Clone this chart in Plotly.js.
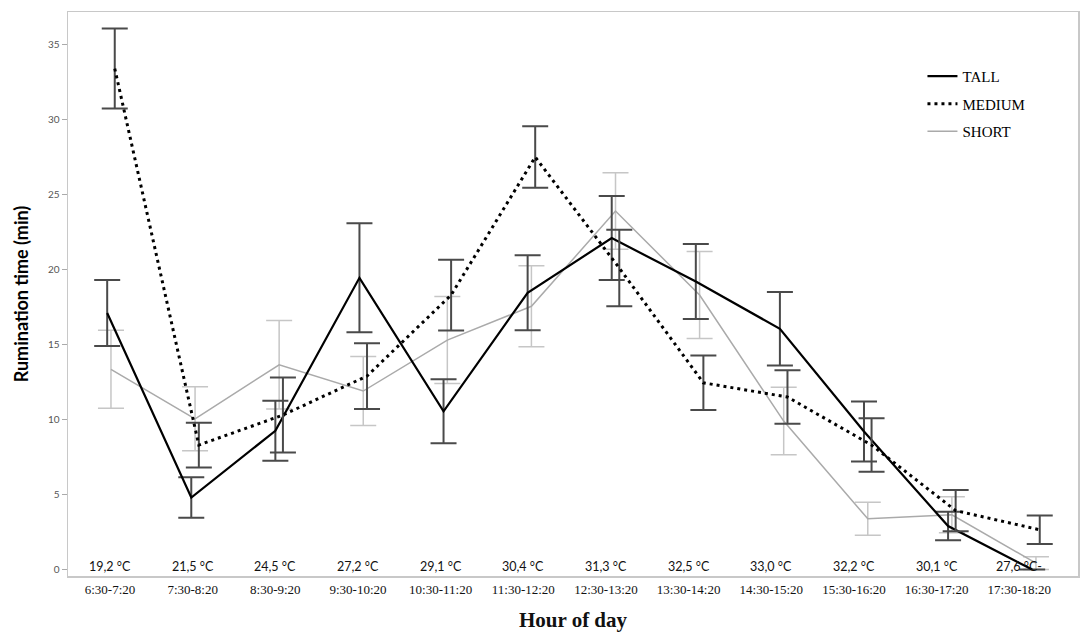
<!DOCTYPE html>
<html>
<head>
<meta charset="utf-8">
<script src="https://cdn.plot.ly/plotly-3.0.1.min.js"></script>
<style>
  body { margin: 0; background: #fff; }
  #chart { width: 1084px; height: 634px; }
</style>
</head>
<body>
<div id="chart"></div>
<script>
// time slots and mean air temperature per slot
const hours = ["6:30-7:20", "7:30-8:20", "8:30-9:20", "9:30-10:20", "10:30-11:20", "11:30-12:20",
               "12:30-13:20", "13:30-14:20", "14:30-15:20", "15:30-16:20", "16:30-17:20", "17:30-18:20"];
const temps = ["19,2 °C", "21,5 °C", "24,5 °C", "27,2 °C", "29,1 °C", "30,4 °C",
               "31,3 °C", "32,5 °C", "33,0 °C", "32,2 °C", "30,1 °C", "27,6 °C-"];

// rumination time (min), mean and error
const tall      = [17.1, 4.8, 9.25, 19.45, 10.55, 18.45, 22.1, 19.2, 16.05, 9.2, 2.9, 0.0];
const tallErr   = [2.2, 1.35, 2.0, 3.63, 2.13, 2.5, 2.8, 2.5, 2.45, 2.0, 0.95, 0];
const medium    = [33.4, 8.3, 10.3, 12.9, 18.3, 27.5, 20.1, 12.45, 11.5, 8.3, 3.93, 2.65];
const mediumErr = [2.67, 1.49, 2.5, 2.19, 2.36, 2.05, 2.55, 1.82, 1.78, 1.78, 1.37, 0.95];
const short     = [13.35, 10.05, 13.65, 11.9, 15.3, 17.55, 23.9, 18.3, 9.9, 3.38, 3.65, 0.43];
const shortErr  = [2.6, 2.13, 2.95, 2.3, 2.9, 2.7, 2.55, 2.9, 2.25, 1.1, 1.2, 0.43];

// small horizontal dodge so the error bars do not sit on top of each other
const dodge = 0.045;
const xs = off => hours.map((h, i) => i + off);

function series(name, y, err, off, line, errColor, errThick, rank) {
    return {
        type: "scatter", mode: "lines", name: name,
        x: xs(off), y: y,
        line: line,
        error_y: {type: "data", array: err, visible: true, color: errColor, thickness: errThick, width: 13},
        legendrank: rank, legendgroup: name,
        hoverinfo: "skip"
    };
}

const traces = [
    series("SHORT", short, shortErr, 0, {color: "#aaaaaa", width: 1.5}, "#c6c6c6", 1.5, 3),
    series("TALL", tall, tallErr, -dodge, {color: "#000", width: 2.2}, "#4a4a4a", 2, 1),
    series("MEDIUM", medium, mediumErr, dodge, {color: "#000", width: 3, dash: "3px,4px"}, "#4a4a4a", 2, 2)
];

const serif = "Liberation Serif, Times New Roman, serif";

const layout = {
    width: 1084, height: 634,
    margin: {l: 68, r: 6, t: 12, b: 58},
    paper_bgcolor: "#fff", plot_bgcolor: "#fff",
    showlegend: true,
    legend: {
        x: 0.846, y: 0.915, xanchor: "left", yanchor: "top",
        font: {family: serif, size: 15, color: "#000"},
        itemwidth: 30, tracegroupgap: 5, bgcolor: "rgba(0,0,0,0)"
    },
    xaxis: {
        range: [-0.511, 11.5], showticklabels: false, ticks: "",
        showgrid: false, zeroline: false,
        showline: true, mirror: true, linecolor: "#c8c8c8", linewidth: 1.5
    },
    xaxis2: {
        overlaying: "x", anchor: "y", side: "bottom",
        type: "category", categoryarray: hours, range: [-0.508, 11.71],
        showgrid: false, zeroline: false, showline: false, ticks: "",
        ticklabelstandoff: 4,
        tickfont: {family: serif, size: 13, color: "#111"},
        title: {text: "<b>Hour of day</b>", font: {family: serif, size: 21, color: "#111"}, standoff: 16}
    },
    yaxis: {
        range: [-0.43, 37.17], tickvals: [0, 5, 10, 15, 20, 25, 30, 35],
        ticks: "outside", ticklen: 5, tickcolor: "#aaa", tickwidth: 1,
        tickfont: {family: "Lato, sans-serif", size: 10, color: "#555"},
        showgrid: false, zeroline: false,
        showline: true, mirror: true, linecolor: "#c8c8c8", linewidth: 1.5,
        title: {text: "<b>Rumination time (min)</b>", font: {family: "Lato, sans-serif", size: 18, color: "#000"}, standoff: 14}
    },
    annotations: temps.map((t, i) => ({
        text: t, x: hours[i], xref: "x2", y: 0.2, yref: "y",
        showarrow: false, font: {family: "Lato, sans-serif", size: 12.5, color: "#111"}
    }))
};

// axis label trace for the second x axis (holds the hour labels)
traces.push({
    type: "scatter", mode: "markers", x: hours, y: hours.map(() => null),
    xaxis: "x2", showlegend: false, hoverinfo: "skip"
});

Plotly.newPlot("chart", traces, layout, {displayModeBar: false, staticPlot: true});
</script>
</body>
</html>
